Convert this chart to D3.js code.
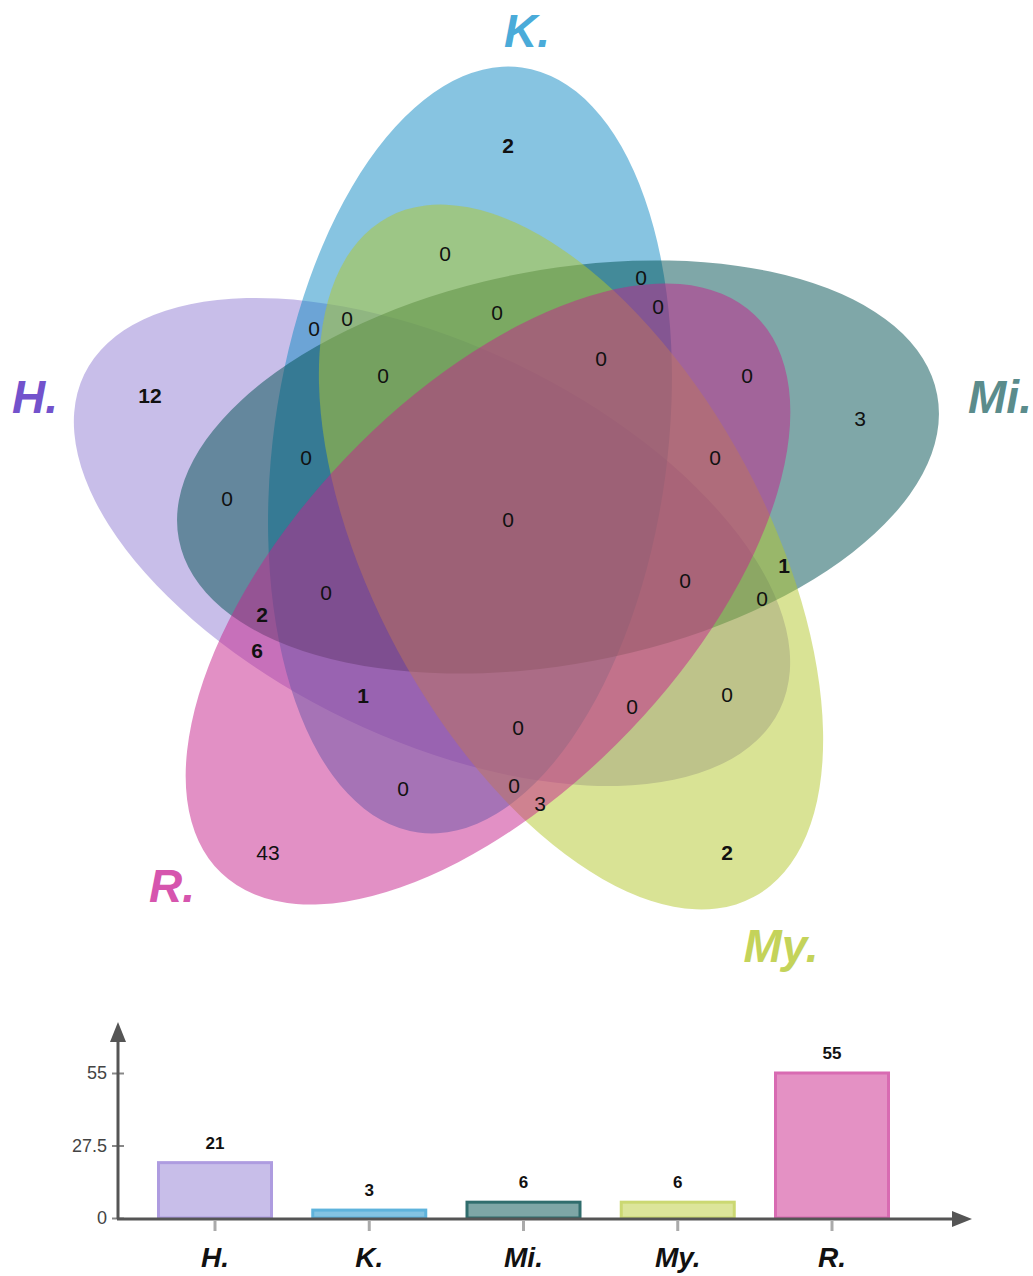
<!DOCTYPE html>
<html>
<head>
<meta charset="utf-8">
<script src="https://cdn.jsdelivr.net/npm/d3@7"></script>
<style>
  html, body { margin: 0; padding: 0; background: #ffffff; }
  svg { display: block; }
</style>
</head>
<body>
<svg id="chart" width="1033" height="1276"></svg>
<script>
// ---- data ----
const setNames = ["H.", "K.", "Mi.", "My.", "R."];
const setTotals = [21, 3, 6, 6, 55];

// exclusive region counts, keyed by member set initials
const regionKeys = [
  "K", "K&My", "K&Mi", "K&Mi&R", "K&Mi&My", "H&K", "H&K&My", "H&K&Mi&My",
  "K&Mi&My&R", "Mi&R", "H", "Mi", "H&K&Mi", "Mi&My&R", "H&Mi", "H&K&Mi&My&R",
  "Mi&My", "H&Mi&My", "H&Mi&My&R", "H&K&Mi&R", "H&Mi&R", "H&R", "H&K&R",
  "H&My", "H&My&R", "H&K&My&R", "K&R", "K&My&R", "My&R", "R", "My"
];
const regionCounts = [
  2, 0, 0, 0, 0, 0, 0, 0,
  0, 0, 12, 3, 0, 0, 0, 0,
  1, 0, 0, 0, 2, 6, 1,
  0, 0, 0, 0, 0, 3, 43, 2
];

// ---- layout ----
const svg = d3.select("#chart");

// ellipse geometry for each set (same order as setNames)
const shapeGeom = [
  { cx: 432, cy: 542, rot: 205.7 },
  { cx: 470, cy: 450, rot: -82.3 },
  { cx: 558, cy: 467, rot: -10.8 },
  { cx: 571, cy: 557, rot: 61.7 },
  { cx: 488, cy: 594, rot: 133.7 }
];
const semiMajor = 386, semiMinor = 197;
const shapeFill = ["#917dd3", "#0f89c3", "#004f51", "#b3c72b", "#c5218b"];
const shapeOpacity = 0.5;
const labelColor = ["#7352cc", "#4aabd9", "#5b8c8c", "#c4d35a", "#d655ae"];
const setLabelPos = [[35, 413], [527, 47], [1000, 413], [781, 962], [172, 902]];

// count label positions, same order as regionKeys
const regionPos = [
  [508, 145], [445, 253], [641, 277], [658, 306], [497, 312], [314, 328], [347, 318], [383, 375],
  [601, 358], [747, 375], [150, 395], [860, 418], [306, 457], [715, 457], [227, 498], [508, 519],
  [784, 565], [762, 598], [685, 580], [326, 592], [262, 614], [257, 650], [363, 695],
  [727, 694], [632, 706], [518, 727], [403, 788], [514, 785], [540, 803], [268, 852], [727, 852]
];
const boldRegions = new Set(["K", "H", "Mi&My", "H&Mi&R", "H&R", "H&K&R", "My"]);

// ---- venn ellipses ----
const venn = svg.append("g").attr("class", "venn");
venn.selectAll("ellipse")
  .data(setNames.map((name, i) => ({ name, ...shapeGeom[i], fill: shapeFill[i] })))
  .join("ellipse")
  .attr("cx", d => d.cx)
  .attr("cy", d => d.cy)
  .attr("rx", semiMajor)
  .attr("ry", semiMinor)
  .attr("transform", d => `rotate(${d.rot},${d.cx},${d.cy})`)
  .attr("fill", d => d.fill)
  .attr("fill-opacity", shapeOpacity);

venn.selectAll("text.count")
  .data(regionKeys.map((k, i) => ({ key: k, count: regionCounts[i], pos: regionPos[i] })))
  .join("text")
  .attr("class", "count")
  .attr("x", d => d.pos[0])
  .attr("y", d => d.pos[1])
  .attr("dy", "0.36em")
  .attr("text-anchor", "middle")
  .attr("font-family", "'Liberation Sans', Arial, sans-serif")
  .attr("font-size", 21)
  .attr("font-weight", d => boldRegions.has(d.key) ? "bold" : "normal")
  .attr("fill", "#111")
  .text(d => d.count);

venn.selectAll("text.setname")
  .data(setNames.map((n, i) => ({ n, i })))
  .join("text")
  .attr("class", "setname")
  .attr("x", d => setLabelPos[d.i][0])
  .attr("y", d => setLabelPos[d.i][1])
  .attr("text-anchor", "middle")
  .attr("font-family", "'Liberation Sans', Arial, sans-serif")
  .attr("font-size", 46)
  .attr("font-weight", "bold")
  .attr("font-style", "italic")
  .attr("fill", d => labelColor[d.i])
  .text(d => d.n);

// ---- bar chart of set sizes ----
const barFill = ["#c8bee9", "#84c3e2", "#7ea6a6", "#dce59a", "#e491c4"];
const barStroke = ["#ae9ce0", "#5eb3dc", "#306d6d", "#cbd872", "#d86bb2"];
const axisX = 118, axisY = 1219;
const x = d3.scalePoint().domain(setNames).range([215, 832]);
const y = d3.scaleLinear().domain([0, 55]).range([1218, 1073]);
const barW = 113;
const yTicks = [0, 27.5, 55];

const bars = svg.append("g").attr("class", "bars");
bars.selectAll("rect")
  .data(setNames.map((n, i) => ({ n, v: setTotals[i], i })))
  .join("rect")
  .attr("x", d => x(d.n) - barW / 2)
  .attr("y", d => y(d.v))
  .attr("width", barW)
  .attr("height", d => y(0) - y(d.v))
  .attr("fill", d => barFill[d.i])
  .attr("stroke", d => barStroke[d.i])
  .attr("stroke-width", 3);

bars.selectAll("text.val")
  .data(setNames.map((n, i) => ({ n, v: setTotals[i] })))
  .join("text")
  .attr("class", "val")
  .attr("x", d => x(d.n))
  .attr("y", d => y(d.v) - 14)
  .attr("text-anchor", "middle")
  .attr("font-family", "'Liberation Sans', Arial, sans-serif")
  .attr("font-size", 17)
  .attr("font-weight", "bold")
  .attr("fill", "#111")
  .text(d => d.v);

// y axis with ticks
const yAxis = d3.axisLeft(y).tickValues(yTicks).tickSize(0).tickPadding(11)
  .tickFormat(d => d3.format("~g")(d));
const gy = svg.append("g").attr("transform", `translate(${axisX},0)`).call(yAxis);
gy.select(".domain").remove();
gy.selectAll(".tick text")
  .attr("font-family", "'Liberation Sans', Arial, sans-serif")
  .attr("font-size", 18)
  .attr("fill", "#444");
gy.selectAll(".tick").append("line")
  .attr("x1", -6).attr("x2", 6)
  .attr("stroke", "#888").attr("stroke-width", 2);

// x axis ticks under each bar
svg.append("g").selectAll("line")
  .data(setNames)
  .join("line")
  .attr("x1", d => x(d)).attr("x2", d => x(d))
  .attr("y1", axisY + 2).attr("y2", axisY + 12)
  .attr("stroke", "#aaa").attr("stroke-width", 3);

svg.append("g").selectAll("text")
  .data(setNames)
  .join("text")
  .attr("x", d => x(d))
  .attr("y", 1267)
  .attr("text-anchor", "middle")
  .attr("font-family", "'Liberation Sans', Arial, sans-serif")
  .attr("font-size", 28)
  .attr("font-weight", "bold")
  .attr("font-style", "italic")
  .attr("fill", "#111")
  .text(d => d);

// axis lines with arrowheads
const axisColor = "#555";
svg.append("line").attr("x1", axisX).attr("y1", axisY).attr("x2", axisX).attr("y2", 1038)
  .attr("stroke", axisColor).attr("stroke-width", 3);
svg.append("path").attr("d", `M${axisX},1022 L${axisX - 8},1042 L${axisX + 8},1042 Z`).attr("fill", axisColor);
svg.append("line").attr("x1", axisX - 1).attr("y1", axisY).attr("x2", 958).attr("y2", axisY)
  .attr("stroke", axisColor).attr("stroke-width", 3);
svg.append("path").attr("d", `M972,${axisY} L952,${axisY - 8} L952,${axisY + 8} Z`).attr("fill", axisColor);
</script>
</body>
</html>
